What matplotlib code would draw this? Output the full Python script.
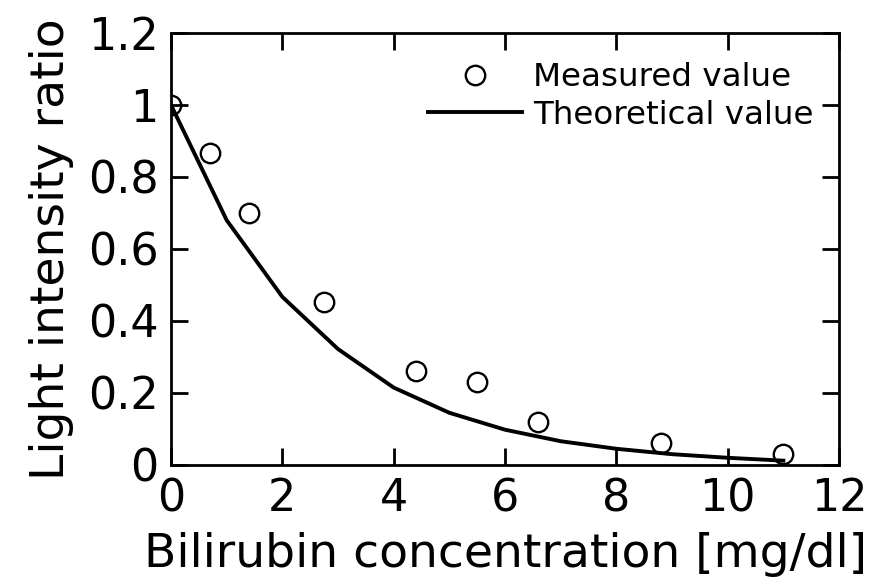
import matplotlib
matplotlib.use('Agg')
import matplotlib.pyplot as plt

# Measured and theoretical light intensity ratio vs bilirubin concentration
measured_conc = [0.0, 0.7, 1.4, 2.75, 4.4, 5.5, 6.6, 8.8, 11.0]
measured_ratio = [1.0, 0.867, 0.70, 0.453, 0.261, 0.231, 0.119, 0.061, 0.031]
theory_conc = [0, 1, 2, 3, 4, 5, 6, 7, 8, 9, 10, 11]
theory_ratio = [1.0, 0.68, 0.467, 0.322, 0.215, 0.145, 0.098, 0.066, 0.045, 0.030, 0.020, 0.012]

plt.rcParams['font.family'] = ['DejaVu Sans']

fig = plt.figure(figsize=(8.69, 5.84), dpi=100)
ax = fig.add_axes([0.1968, 0.2038, 0.7687, 0.7397])

ax.plot(measured_conc, measured_ratio, linestyle='none', marker='o', markersize=14,
        markerfacecolor='none', markeredgecolor='k', markeredgewidth=1.7, label='Measured value')
ax.plot(theory_conc, theory_ratio, color='k', linewidth=2.8, label='Theoretical value')

ax.set_xlim(0, 12)
ax.set_ylim(0, 1.2)
ax.set_xticks([0, 2, 4, 6, 8, 10, 12])
ax.set_yticks([0, 0.2, 0.4, 0.6, 0.8, 1.0, 1.2])
ax.set_yticklabels(['0', '0.2', '0.4', '0.6', '0.8', '1', '1.2'])
ax.tick_params(direction='in', length=12, width=2, labelsize=32, top=True, right=True, pad=9)
for s in ax.spines.values():
    s.set_linewidth(2)

ax.set_xlabel('Bilirubin concentration [mg/dl]', fontsize=34, labelpad=8)
ax.set_ylabel('Light intensity ratio', fontsize=34, labelpad=10)

ax.legend(loc='upper right', bbox_to_anchor=(0.962, 0.932), frameon=False, fontsize=23.4,
          handlelength=2.9, handletextpad=0.35, borderpad=0, borderaxespad=0, labelspacing=0.2)

fig.savefig('out.png', dpi=100)
